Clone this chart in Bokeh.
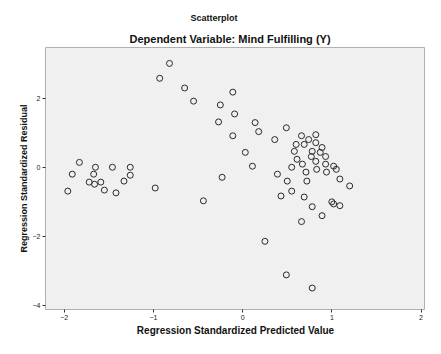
from bokeh.plotting import figure
from bokeh.models import Title, Range1d, FixedTicker
from bokeh.embed import file_html
from bokeh.resources import INLINE

# Regression standardized predicted values (x) and standardized residuals (y)
pred = [
    -1.83, -1.91, -1.65, -1.46, -1.26, -1.67, -1.26, -1.66, -1.72, -1.59,
    -1.33, -1.96, -1.55, -1.42, -0.98,
    -0.82, -0.93, -0.65, -0.55, -0.11, -0.25, -0.27, -0.09, 0.14, 0.18,
    -0.11, 0.36, 0.03, 0.11, -0.23, -0.44, 0.39, 0.43, 0.49, 0.25,
    0.49, 0.78,
    0.66, 0.82, 0.82, 0.60, 0.69, 0.58, 0.78, 0.87, 0.77, 0.61,
    0.93, 0.82, 0.93, 1.02, 1.05, 0.83, 0.55, 0.71, 0.94, 0.50,
    0.72, 1.09, 1.20, 0.55, 0.69, 1.00, 1.09, 0.78, 0.89, 0.66,
    1.02, 0.74, 0.89, 0.67,
]
resid = [
    0.14, -0.20, 0.00, 0.00, 0.00, -0.20, -0.23, -0.49, -0.43, -0.43,
    -0.40, -0.69, -0.66, -0.74, -0.60,
    3.00, 2.57, 2.29, 1.91, 2.17, 1.80, 1.31, 1.54, 1.29, 1.03,
    0.91, 0.80, 0.43, 0.03, -0.29, -0.97, -0.20, -0.83, 1.14, -2.14,
    -3.11, -3.49,
    0.91, 0.94, 0.71, 0.66, 0.66, 0.46, 0.46, 0.43, 0.31, 0.23,
    0.31, 0.17, 0.09, 0.03, -0.06, -0.06, 0.00, -0.14, -0.14, -0.40,
    -0.40, -0.34, -0.54, -0.69, -0.86, -1.00, -1.11, -1.14, -1.40, -1.57,
    -1.06, 0.80, 0.57, 0.09,
]

x_ticks = [-2, -1, 0, 1, 2]
y_ticks = [-4, -2, 0, 2]

title_text = "Scatterplot"
subtitle_text = "Dependent Variable: Mind Fulfilling (Y)"
x_label = "Regression Standardized Predicted Value"
y_label = "Regression Standardized Residual"

FONT = "Liberation Sans"

p = figure(width=425, height=338, output_backend="svg", toolbar_location=None,
           title=None,
           x_range=Range1d(-2.21, 2.05), y_range=Range1d(-4.11, 3.46),
           min_border_left=45, min_border_right=0, min_border_top=47,
           min_border_bottom=27)

sub = Title(text=subtitle_text, align="left", offset=84, text_font=FONT,
            text_font_size="11px", text_font_style="bold", text_color="#111111",
            standoff=5, padding=(0, 0, 4, 0))
ttl = Title(text=title_text, align="left", offset=145, text_font=FONT,
            text_font_size="9px", text_font_style="bold", text_color="#111111",
            standoff=4)
p.add_layout(sub, "above")
p.add_layout(ttl, "above")

p.background_fill_color = "#f0f0f0"
p.border_fill_color = "white"
p.outline_line_color = "#b0b0b0"
p.xgrid.visible = False
p.ygrid.visible = False

for ax in (p.xaxis[0], p.yaxis[0]):
    ax.axis_line_color = None
    ax.major_tick_line_color = "#333333"
    ax.minor_tick_line_color = None
    ax.major_tick_in = 0
    ax.major_tick_out = 3
    ax.major_label_standoff = 2
    ax.major_label_text_font = FONT
    ax.major_label_text_font_size = "7px"
    ax.major_label_text_color = "#222222"
    ax.axis_label_text_font = FONT
    ax.axis_label_text_font_style = "bold"
    ax.axis_label_text_color = "#111111"

p.xaxis[0].ticker = FixedTicker(ticks=x_ticks)
p.yaxis[0].ticker = FixedTicker(ticks=y_ticks)
p.xaxis[0].axis_label = x_label
p.yaxis[0].axis_label = y_label
p.xaxis[0].axis_label_text_font_size = "10px"
p.xaxis[0].axis_label_standoff = 2
p.yaxis[0].axis_label_text_font_size = "9px"
p.yaxis[0].axis_label_standoff = 1

p.scatter(pred, resid, marker="circle", size=6, fill_color=None,
          line_color="#2a2a2a", line_width=1)

open("out.html", "w").write(file_html(p, INLINE))
